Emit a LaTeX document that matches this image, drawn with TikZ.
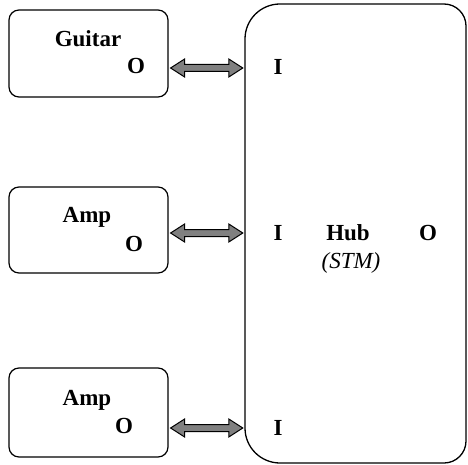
\documentclass[tikz,border=0pt]{standalone}
\usepackage{fontspec}
\setmainfont{Liberation Serif}
\usetikzlibrary{calc}
\tikzset{
  devbox/.style={draw, line width=1.2pt, rounded corners=10pt, minimum width=159pt, inner sep=0pt},
  lbl/.style={font=\fontsize{23}{27}\selectfont\bfseries, inner sep=0pt, anchor=base},
  fatarrowstyle/.style={draw, line width=1pt, fill=gray, line join=miter},
  hubline/.style={draw, line width=1.3pt}
}
\newcommand\fatarrow[2]{%
  \path[fatarrowstyle] let \p1=(#1), \p2=(#2) in
  (\x1,\y1) -- (\x1+14pt,\y1+9pt) -- (\x1+14pt,\y1+3.5pt) -- (\x2-14pt,\y1+3.5pt)
  -- (\x2-14pt,\y1+9pt) -- (\x2,\y1) -- (\x2-14pt,\y1-9pt) -- (\x2-14pt,\y1-3.5pt)
  -- (\x1+14pt,\y1-3.5pt) -- (\x1+14pt,\y1-9pt) -- cycle;}
\begin{document}
\begin{tikzpicture}[x=1pt,y=-1pt]
\useasboundingbox (0,0) rectangle (468,465);
% device boxes
\node[devbox, minimum height=87pt] (guitar) at (88.5,53.5) {};
\node[devbox, minimum height=86pt] (amp1) at (88.5,230) {};
\node[devbox, minimum height=89pt] (amp2) at (88.5,412.5) {};
% hub
\node[minimum width=221pt, minimum height=459pt, inner sep=0pt] (hub) at (355.5,233.5) {};
\path[hubline] (245,39) arc[start angle=180, end angle=270, radius=35]
  -- (444,4) arc[start angle=270, end angle=360, radius=22]
  -- (466,441) arc[start angle=0, end angle=90, radius=22]
  -- (280,463) arc[start angle=90, end angle=180, radius=35] -- cycle;
% labels
\node[lbl] (gt) at (88,47) {Guitar};
\node[lbl] (gO) at (136,74) {O};
\node[lbl] (a1t) at (87,222) {Amp};
\node[lbl] (a1O) at (134,251) {O};
\node[lbl] (a2t) at (87,405) {Amp};
\node[lbl] (a2O) at (124,433) {O};
\node[lbl] (hI1) at (278,75) {I};
\node[lbl] (hI2) at (278,240) {I};
\node[lbl] (hI3) at (278,435) {I};
\node[lbl] (hubt) at (348,240) {Hub};
\node[lbl] (hubO) at (428,240) {O};
\node[inner sep=0pt, anchor=base, font=\fontsize{23}{27}\selectfont\itshape] (stm) at (351,268) {(STM)};
% arrow levels
\coordinate (y1) at (0,68);
\coordinate (y2) at (0,233);
\coordinate (y3) at (0,428);
\fatarrow{$(guitar.east |- y1)+(2,0)$}{$(hub.west |- y1)+(-2,0)$}
\fatarrow{$(amp1.east |- y2)+(2,0)$}{$(hub.west |- y2)+(-2,0)$}
\fatarrow{$(amp2.east |- y3)+(2,0)$}{$(hub.west |- y3)+(-2,0)$}
\end{tikzpicture}
\end{document}
